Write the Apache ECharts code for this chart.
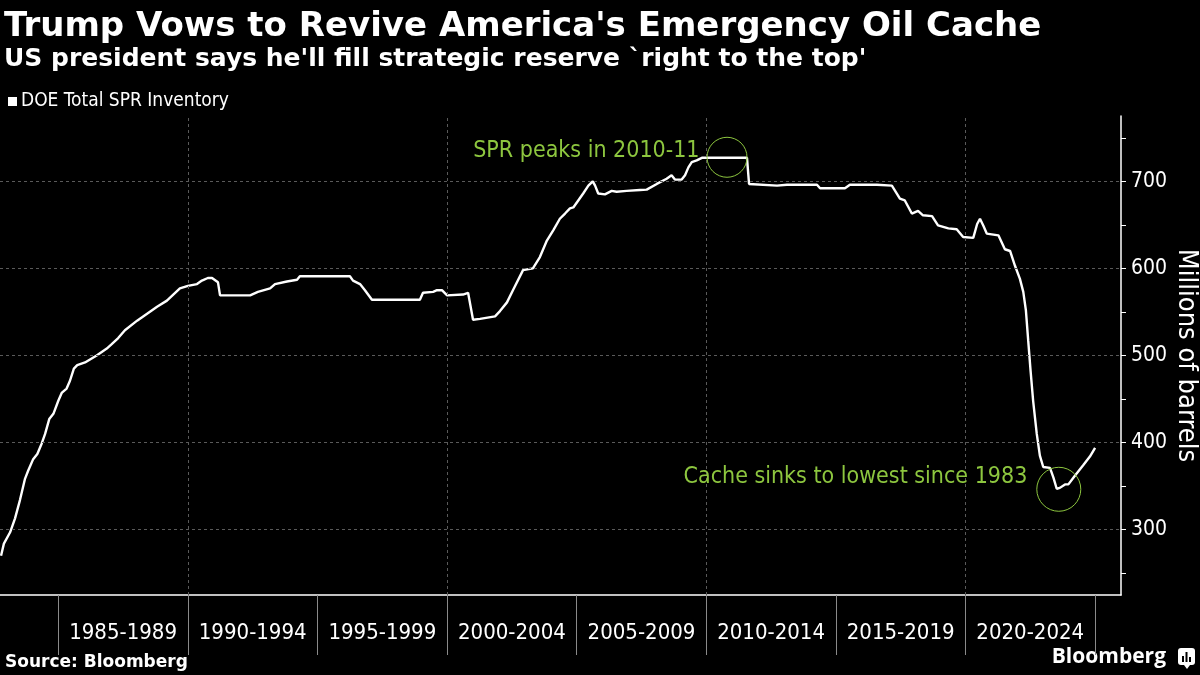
<!DOCTYPE html>
<html><head><meta charset="utf-8">
<script src="https://cdn.jsdelivr.net/npm/echarts@6/dist/echarts.min.js"></script>
<style>html,body{margin:0;padding:0;background:#000;} #c{width:1200px;height:675px;}</style>
</head><body><div id="c"></div>
<script>
// ---- data ----
const years = [1982.79,1982.90,1983.14,1983.33,1983.52,1983.71,1983.84,1984.03,1984.19,1984.36,1984.49,1984.65,1984.81,1985.00,1985.13,1985.32,1985.45,1985.60,1985.73,1986.03,1986.48,1986.87,1987.06,1987.31,1987.57,1988.04,1988.81,1989.19,1989.69,1990.00,1990.35,1990.54,1990.77,1990.93,1991.16,1991.24,1992.40,1992.70,1993.17,1993.36,1993.82,1994.21,1994.32,1996.25,1996.37,1996.64,1996.83,1997.10,1998.95,1999.07,1999.46,1999.61,1999.80,2000.00,2000.61,2000.81,2001.00,2001.27,2001.85,2002.04,2002.31,2002.54,2002.93,2003.31,2003.58,2003.85,2004.10,2004.35,2004.55,2004.74,2004.87,2005.06,2005.25,2005.45,2005.62,2005.71,2005.83,2006.09,2006.35,2006.54,2006.93,2007.44,2007.70,2008.09,2008.47,2008.66,2008.79,2009.05,2009.18,2009.31,2009.44,2009.63,2009.83,2011.57,2011.65,2012.73,2013.11,2014.27,2014.39,2015.35,2015.54,2016.58,2017.16,2017.47,2017.66,2017.93,2018.17,2018.36,2018.71,2018.94,2019.34,2019.66,2019.91,2020.30,2020.45,2020.56,2020.69,2020.82,2021.27,2021.52,2021.72,2021.91,2022.10,2022.23,2022.33,2022.42,2022.51,2022.61,2022.75,2022.87,2023.00,2023.26,2023.39,2023.52,2023.64,2023.84,2023.97,2024.22,2024.54,2024.80,2025.00];
const inventory = [270,284,297,313,334,358,368,381,387,399,410,427,433,448,457,462,471,485,489,492,500,508,513,520,529,540,556,563,577,580,582,586,589,589,584,569,569,573,577,582,585,587,591,591,586,582,575,564,564,572,573,575,575,569,570,572,541,542,545,551,561,575,598,600,613,632,644,657,663,669,670,678,686,695,700,695,686,685,689,688,689,690,690.5,697,703,707,702,702,707,716,722,724,727,727,697,695,696,696,692,692,696,696,695,680,678,663,666,661,660,649.5,646,645,636,635,651,657,649,640,638,622,620,603,588,573,552,517,483,448,410,385,372,371,360,347,348,352,352,362,374,384,394];

const periodLabels = ['1985-1989','1990-1994','1995-1999','2000-2004','2005-2009','2010-2014','2015-2019','2020-2024'];
const periodCenters = [1987.5,1992.5,1997.5,2002.5,2007.5,2012.5,2017.5,2022.5];
const periodBounds = [1985,1990,1995,2000,2005,2010,2015,2020,2025];
const decadeLines = [1990,2000,2010,2020];
const yLabelValues = [300,400,500,600,700];
const yTickValues = [250,300,350,400,450,500,550,600,650,700,750];
const annotations = [
  {text:'SPR peaks in 2010-11', coord:[2010.8,727.6], size:40, dist:7, dy:-6},
  {text:'Cache sinks to lowest since 1983', coord:[2023.6,346.4], size:44, dist:9, dy:-12}
];

const GREEN = '#8dc63f';
const labelFont = "'Liberation Sans Narrow','DejaVu Sans Condensed','Roboto Condensed','Open Sans',sans-serif";
const titleFont = "'DejaVu Sans',sans-serif";

const chart = echarts.init(document.getElementById('c'));
chart.setOption({
  backgroundColor:'#000',
  animation:false,
  title:[
    {text:"Trump Vows to Revive America's Emergency Oil Cache", left:4, top:10, padding:0,
     textStyle:{color:'#fff', fontSize:34, fontWeight:'bold', fontFamily:titleFont}},
    {text:"US president says he'll fill strategic reserve `right to the top'", left:4, top:47, padding:0,
     textStyle:{color:'#fff', fontSize:25, fontWeight:'bold', fontFamily:titleFont}},
    {text:'Source: Bloomberg', left:5, top:654, padding:0,
     textStyle:{color:'#fff', fontSize:17, fontWeight:'bold', fontFamily:titleFont}}
  ],
  legend:{
    data:[{name:'DOE Total SPR Inventory', icon:'rect'}],
    left:8, top:92, padding:0, itemWidth:9, itemHeight:9, itemGap:4,
    textStyle:{color:'#fff', fontSize:19, fontFamily:labelFont, padding:[0,0,0,-1]}
  },
  grid:{left:0, right:79, top:116, bottom:80, containLabel:false, outerBoundsMode:'none'},
  xAxis:{
    type:'value', min:1982.75, max:2026,
    axisLine:{show:true, lineStyle:{color:'#fff', width:1.5}},
    axisTick:{show:true, customValues:periodBounds, length:60, lineStyle:{color:'#8a8a8a', width:1}},
    axisLabel:{show:true, customValues:periodCenters, margin:27, color:'#fff', fontSize:22, fontFamily:labelFont,
      formatter:function(v){ const i = Math.round((v-1987.5)/5); return periodLabels[i] || ''; }},
    splitLine:{show:false}
  },
  yAxis:{
    type:'value', position:'right', min:225, max:775,
    name:'Millions of barrels', nameLocation:'middle', nameRotate:-90, nameGap:52, nameMoveOverlap:false,
    nameTextStyle:{color:'#fff', fontSize:27, fontFamily:labelFont},
    axisLine:{show:true, lineStyle:{color:'#fff', width:1.5}},
    axisTick:{show:true, customValues:yTickValues, length:5, lineStyle:{color:'#fff'}},
    axisLabel:{show:true, customValues:yLabelValues, margin:10, color:'#fff', fontSize:21, fontFamily:labelFont},
    splitLine:{show:false}
  },
  series:[
    {
      type:'line', z:1, data:[], silent:true,
      markLine:{
        silent:true, symbol:['none','none'], label:{show:false}, animation:false,
        lineStyle:{color:'#5a5a5a', type:[3,3], width:1},
        data: decadeLines.map(v=>({xAxis:v})).concat(yLabelValues.map(v=>({yAxis:v})))
      }
    },
    {
      name:'DOE Total SPR Inventory', type:'line', z:3,
      data: years.map((y,i)=>[y, inventory[i]]),
      showSymbol:false, symbol:'none',
      lineStyle:{color:'#fff', width:2.4}, itemStyle:{color:'#fff'},
      markPoint:{
        silent:true, animation:false,
        data: annotations.map(a=>({
          coord:a.coord, symbol:'circle', symbolSize:a.size,
          itemStyle:{color:'rgba(0,0,0,0)', borderColor:GREEN, borderWidth:1},
          label:{show:true, position:'left', distance:a.dist, offset:[0,a.dy], formatter:a.text,
                 color:GREEN, fontSize:23, fontFamily:labelFont}
        }))
      }
    }
  ],
  graphic:[
    {type:'text', right:34, top:647, style:{text:'Bloomberg', fill:'#fff', font:"bold 21px 'Open Sans', 'DejaVu Sans', sans-serif"}},
    {type:'group', right:5, top:648, children:[
      {type:'rect', shape:{x:0,y:0,width:17,height:17,r:3}, style:{fill:'#fff'}},
      {type:'polygon', shape:{points:[[6,17],[9,21],[12,17]]}, style:{fill:'#fff'}},
      {type:'rect', shape:{x:4,y:8,width:2,height:6}, style:{fill:'#000'}},
      {type:'rect', shape:{x:7.5,y:4,width:2,height:10}, style:{fill:'#000'}},
      {type:'rect', shape:{x:11,y:9,width:2,height:5}, style:{fill:'#000'}}
    ]}
  ]
});
</script></body></html>
